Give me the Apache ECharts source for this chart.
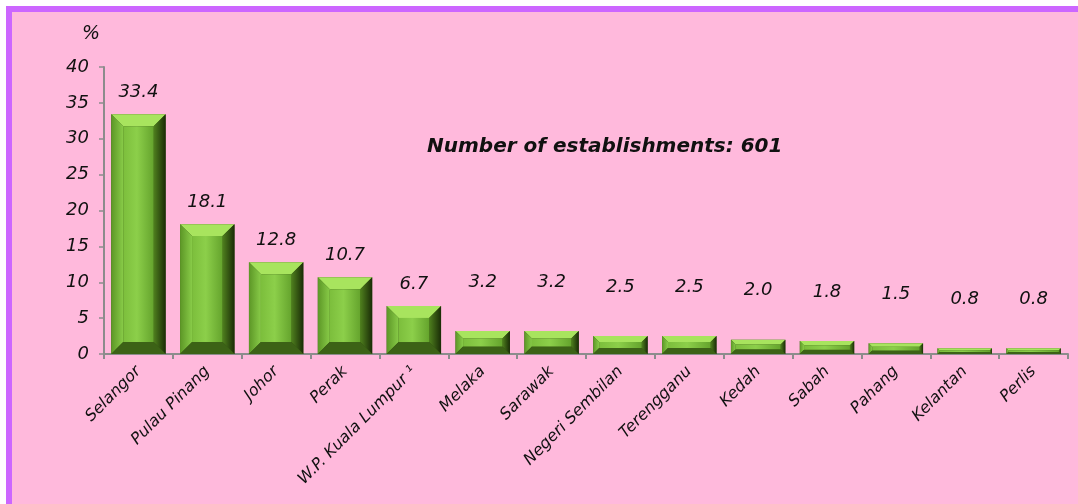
<!DOCTYPE html>
<html><head><meta charset="utf-8">
<script src="https://cdn.jsdelivr.net/npm/echarts@6/dist/echarts.min.js"></script>
<style>html,body{margin:0;padding:0;background:#fff;}#c{width:1078px;height:504px;}</style>
</head><body><div id="c"></div>
<script>
const categories = ['Selangor','Pulau Pinang','Johor','Perak','W.P. Kuala Lumpur \u00b9','Melaka','Sarawak','Negeri Sembilan','Terengganu','Kedah','Sabah','Pahang','Kelantan','Perlis'];
const values = [33.4,18.1,12.8,10.7,6.7,3.2,3.2,2.5,2.5,2.0,1.8,1.5,0.8,0.8];
const yTicks = [0,5,10,15,20,25,30,35,40];
const note = 'Number of establishments: 601';

const FONT = '"DejaVu Sans", sans-serif';
const chart = echarts.init(document.getElementById('c'), null, {renderer:'canvas'});

function renderItem(params, api){
  const idx = api.value(0);
  const v = api.value(1);
  const top = api.coord([idx, v]);
  const base = api.coord([idx, 0]);
  const size = api.size([1, 0]);
  const w = size[0] * 0.79;
  const x = top[0] - w/2, y = top[1], h = base[1] - top[1];
  const b = Math.max(1.5, Math.min(12, h * 0.33, w * 0.22));
  const labelOffset = params.dataIndex >= 5 ? 49 : 22;
  return {
    type:'group',
    children:[
      {type:'rect', shape:{x:x, y:y, width:w, height:h}, style:{fill:'#2f4c0d'}},
      {type:'polygon', shape:{points:[[x,y],[x+w,y],[x+w-b,y+b],[x+b,y+b]]}, style:{fill:'#a8e45e'}},
      {type:'polygon', shape:{points:[[x,y],[x+b,y+b],[x+b,y+h-b],[x,y+h]]},
        style:{fill:new echarts.graphic.LinearGradient(0,0,1,0,[{offset:0,color:'#5c9626'},{offset:1,color:'#88cb48'}])}},
      {type:'polygon', shape:{points:[[x+w,y],[x+w,y+h],[x+w-b,y+h-b],[x+w-b,y+b]]},
        style:{fill:new echarts.graphic.LinearGradient(0,0,1,0,[{offset:0,color:'#4f801e'},{offset:1,color:'#1a2c07'}])}},
      {type:'polygon', shape:{points:[[x,y+h],[x+b,y+h-b],[x+w-b,y+h-b],[x+w,y+h]]}, style:{fill:'#3c6216'}},
      {type:'rect', shape:{x:x+b, y:y+b, width:Math.max(0,w-2*b), height:Math.max(0,h-2*b)},
        style:{fill:new echarts.graphic.LinearGradient(0,0,1,0,[{offset:0,color:'#7cbe3c'},{offset:0.45,color:'#8ccf4a'},{offset:1,color:'#65a42d'}])}},
      {type:'text', style:{text:v.toFixed(1), x:top[0], y:y - labelOffset, align:'center', verticalAlign:'middle',
        font:'italic 18px ' + FONT, fill:'#111'}}
    ]
  };
}

chart.setOption({
  backgroundColor:'#ffffff',
  animation:false,
  graphic:[
    {type:'rect', z:-10, shape:{x:9, y:9, width:1200, height:600}, style:{fill:'#ffb9dc', stroke:'#cc66ff', lineWidth:6}},
    {type:'text', left:82, top:25, style:{text:'%', font:'italic 19px ' + FONT, fill:'#111'}},
    {type:'text', left:427, top:137, style:{text:note, font:'bold italic 20px ' + FONT, fill:'#111'}}
  ],
  grid:{left:104, right:10, top:67, bottom:150, containLabel:false},
  xAxis:{
    type:'category', data:categories, boundaryGap:true,
    axisLine:{lineStyle:{color:'#8c8c8c', width:2}},
    axisTick:{show:true, length:5, lineStyle:{color:'#8c8c8c', width:2}},
    axisLabel:{rotate:45, interval:0, margin:15, color:'#111', fontStyle:'italic', fontSize:16, fontFamily:FONT}
  },
  yAxis:{
    type:'value', min:0, max:40, interval:5,
    axisLine:{show:true, lineStyle:{color:'#8c8c8c', width:2}},
    axisTick:{show:true, length:5, lineStyle:{color:'#8c8c8c', width:1.5}},
    splitLine:{show:false},
    axisLabel:{margin:15, color:'#111', fontStyle:'italic', fontSize:18, fontFamily:FONT,
      formatter:function(v){ return yTicks.indexOf(v) >= 0 ? String(v) : ''; }}
  },
  series:[{
    type:'custom',
    renderItem:renderItem,
    encode:{x:0, y:1},
    data:categories.map(function(c,i){ return [i, values[i]]; })
  }]
});
</script></body></html>
